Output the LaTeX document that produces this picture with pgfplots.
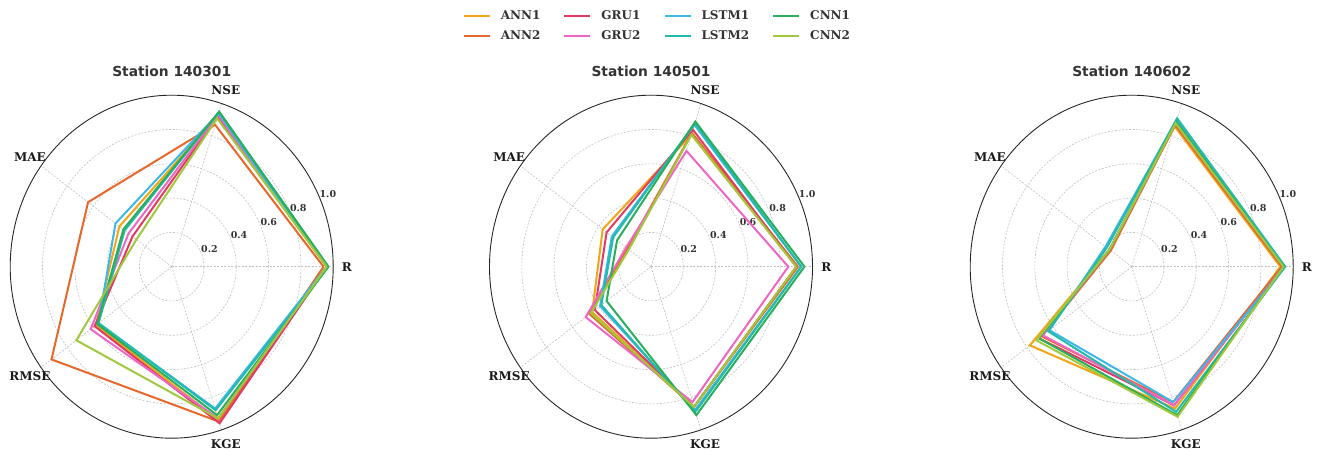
\documentclass[border=0pt]{standalone}
\usepackage{fontspec}
\setmainfont{DejaVu Serif}
\newfontfamily\titlefont{DejaVu Sans}
\usepackage{pgfplots}
\usepgfplotslibrary{polar}
\usepackage{pgfplotstable}
\pgfplotsset{compat=1.18}

\definecolor{cANNa}{HTML}{F2A516}
\definecolor{cANNb}{HTML}{E8672A}
\definecolor{cGRUa}{HTML}{E23B63}
\definecolor{cGRUb}{HTML}{EE66C4}
\definecolor{cLSTMa}{HTML}{3DB7E9}
\definecolor{cLSTMb}{HTML}{22BBAA}
\definecolor{cCNNa}{HTML}{2AAE5C}
\definecolor{cCNNb}{HTML}{A0C83C}
\definecolor{gridc}{HTML}{C0C0C0}
\definecolor{txtc}{HTML}{333333}

% angle: R=0, NSE=72, MAE=144, RMSE=216, KGE=288, R again=360
\pgfplotstableread{
angle ANN1 ANN2 GRU1 GRU2 LSTM1 LSTM2 CNN1 CNN2
0     0.96 0.94 0.96 0.96 0.96 0.97 0.97 0.96
72    0.93 0.87 0.92 0.93 0.94 0.95 0.95 0.91
144   0.40 0.64 0.30 0.33 0.43 0.36 0.37 0.27
216   0.58 0.92 0.59 0.62 0.56 0.56 0.57 0.73
288   0.94 0.95 0.96 0.93 0.87 0.88 0.91 0.93
360   0.96 0.94 0.96 0.96 0.96 0.97 0.97 0.96
}\stA
\pgfplotstableread{
angle ANN1 ANN2 GRU1 GRU2 LSTM1 LSTM2 CNN1 CNN2
0     0.90 0.91 0.90 0.85 0.93 0.93 0.95 0.90
72    0.81 0.82 0.84 0.71 0.87 0.88 0.89 0.81
144   0.37 0.18 0.34 0.19 0.30 0.29 0.26 0.17
216   0.45 0.47 0.43 0.50 0.39 0.38 0.34 0.46
288   0.86 0.86 0.86 0.83 0.88 0.89 0.91 0.86
360   0.90 0.91 0.90 0.85 0.93 0.93 0.95 0.90
}\stB
\pgfplotstableread{
angle ANN1 ANN2 GRU1 GRU2 LSTM1 LSTM2 CNN1 CNN2
0     0.92 0.93 0.94 0.94 0.95 0.95 0.94 0.94
72    0.86 0.87 0.88 0.88 0.90 0.91 0.89 0.88
144   0.17 0.16 0.17 0.17 0.20 0.19 0.17 0.17
216   0.78 0.69 0.71 0.68 0.63 0.64 0.71 0.73
288   0.87 0.83 0.85 0.85 0.83 0.89 0.91 0.92
360   0.92 0.93 0.94 0.94 0.95 0.95 0.94 0.94
}\stC

\pgfplotsset{
  radar/.style={
    scale only axis, width=323pt, height=343pt,
    xmin=-1, xmax=1, ymin=-1, ymax=1,
    hide axis, clip=false, anchor=origin,
    every axis plot/.append style={line width=2.0pt, data cs=polar, mark=none},
  },
}
\tikzset{
  gridline/.style={gridc, line width=0.6pt, dash pattern=on 2pt off 1.5pt},
  ticklab/.style={font=\bfseries\fontsize{9.5}{11}\selectfont, text=txtc, inner sep=0pt},
  axlab/.style={font=\bfseries\fontsize{12}{14}\selectfont, text=black!90, inner sep=0pt},
  ttl/.style={font=\titlefont\bfseries\fontsize{13.8}{16}\selectfont, text=txtc, inner sep=0pt},
}

\newcommand{\radardeco}[1]{%
  \draw[gridline] (axis cs:0,0) ellipse [x radius=0.2, y radius=0.2];
  \draw[gridline] (axis cs:0,0) ellipse [x radius=0.4, y radius=0.4];
  \draw[gridline] (axis cs:0,0) ellipse [x radius=0.6, y radius=0.6];
  \draw[gridline] (axis cs:0,0) ellipse [x radius=0.8, y radius=0.8];
  \draw[gridline] (axis cs:0,0) -- (axis cs:1,0);
  \draw[gridline] (axis cs:0,0) -- (axis cs:0.309017,0.951057);
  \draw[gridline] (axis cs:0,0) -- (axis cs:-0.809017,0.587785);
  \draw[gridline] (axis cs:0,0) -- (axis cs:-0.809017,-0.587785);
  \draw[gridline] (axis cs:0,0) -- (axis cs:0.309017,-0.951057);
  \draw[black!85, line width=0.9pt] (axis cs:0,0) ellipse [x radius=1, y radius=1];
  \node[ticklab] at (axis cs:0.234,0.102) {0.2};
  \node[ticklab] at (axis cs:0.417,0.182) {0.4};
  \node[ticklab] at (axis cs:0.601,0.261) {0.6};
  \node[ticklab] at (axis cs:0.784,0.341) {0.8};
  \node[ticklab] at (axis cs:0.967,0.421) {1.0};
  \node[axlab] at (axis cs:1.085,0) {R};
  \node[axlab] at (axis cs:0.335,1.032) {NSE};
  \node[axlab] at (axis cs:-0.878,0.638) {MAE};
  \node[axlab] at (axis cs:-0.878,-0.638) {RMSE};
  \node[axlab] at (axis cs:0.335,-1.032) {KGE};
  \node[ttl] at (axis cs:0,1.137) {#1};
}

\newcommand{\radarplots}[1]{%
  \addplot[cANNa]  table[x=angle, y=ANN1]  {#1};
  \addplot[cANNb]  table[x=angle, y=ANN2]  {#1};
  \addplot[cGRUa]  table[x=angle, y=GRU1]  {#1};
  \addplot[cGRUb]  table[x=angle, y=GRU2]  {#1};
  \addplot[cLSTMa] table[x=angle, y=LSTM1] {#1};
  \addplot[cLSTMb] table[x=angle, y=LSTM2] {#1};
  \addplot[cCNNa]  table[x=angle, y=CNN1]  {#1};
  \addplot[cCNNb]  table[x=angle, y=CNN2]  {#1};
}

\begin{document}
\begin{tikzpicture}
\useasboundingbox (0pt,0pt) rectangle (1319pt,450pt);

\begin{axis}[radar, at={(171.7pt,183.3pt)}]
  \radardeco{Station 140301}
  \radarplots{\stA}
\end{axis}

\begin{axis}[radar, at={(651pt,183.3pt)},
  legend columns=4,
  legend image code/.code={\draw[#1] (0pt,0pt) -- (26pt,0pt);},
  legend cell align=left,
  legend style={draw=none, fill=none, at={(0.52,1.202)}, anchor=center,
    font=\bfseries\fontsize{12}{14}\selectfont, text=txtc,
    row sep=5pt,
    /tikz/every odd column/.append style={column sep=8pt},
    /tikz/every even column/.append style={column sep=21pt},
  },
]
  \addlegendimage{cANNa, line width=2.0pt}\addlegendentry{ANN1}
  \addlegendimage{cGRUa, line width=2.0pt}\addlegendentry{GRU1}
  \addlegendimage{cLSTMa, line width=2.0pt}\addlegendentry{LSTM1}
  \addlegendimage{cCNNa, line width=2.0pt}\addlegendentry{CNN1}
  \addlegendimage{cANNb, line width=2.0pt}\addlegendentry{ANN2}
  \addlegendimage{cGRUb, line width=2.0pt}\addlegendentry{GRU2}
  \addlegendimage{cLSTMb, line width=2.0pt}\addlegendentry{LSTM2}
  \addlegendimage{cCNNb, line width=2.0pt}\addlegendentry{CNN2}
  \radardeco{Station 140501}
  \radarplots{\stB}
\end{axis}

\begin{axis}[radar, at={(1131.7pt,183.3pt)}]
  \radardeco{Station 140602}
  \radarplots{\stC}
\end{axis}
\end{tikzpicture}
\end{document}
